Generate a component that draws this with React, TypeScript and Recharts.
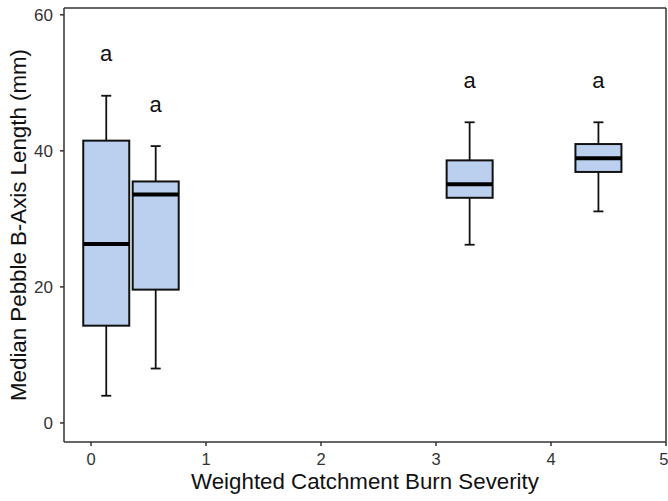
import React from 'react';
import { ComposedChart, Bar, XAxis, YAxis, ReferenceLine } from 'recharts';

// burn severity position of each group
const positions = [0.13, 0.56, 3.29, 4.41];
const whiskerLow = [4.0, 8.0, 26.2, 31.1];
const q1 = [14.3, 19.6, 33.1, 36.9];
const medians = [26.3, 33.6, 35.1, 38.9];
const q3 = [41.5, 35.5, 38.6, 41.0];
const whiskerHigh = [48.1, 40.7, 44.2, 44.2];
const letters = ['a', 'a', 'a', 'a'];
const letterY = [54.3, 46.9, 50.3, 50.3];

const xTicks = [0, 1, 2, 3, 4, 5];
const yTicks = [0, 20, 40, 60];
const xDomain = [-0.235, 5];
const yDomain = [-2.8, 61];

const data = positions.map((x, i) => ({
  x,
  range: [whiskerLow[i], whiskerHigh[i]],
  low: whiskerLow[i],
  q1: q1[i],
  median: medians[i],
  q3: q3[i],
  high: whiskerHigh[i],
  letter: letters[i],
  letterY: letterY[i],
}));

const AXIS = '#333333';
const FONT = '"Liberation Sans", Arial, sans-serif';

function BoxShape(props: any) {
  const { x, y, width, height, payload } = props;
  const { low, high } = payload;
  // range bar spans [low, high]; map other stats along the same scale
  const py = (v: number) => y + ((high - v) / (high - low)) * height;
  const cx = x + width / 2;
  const cap = 5;
  return (
    <g>
      <line x1={cx} x2={cx} y1={py(high)} y2={py(payload.q3)} stroke="#111" strokeWidth={1.8} />
      <line x1={cx} x2={cx} y1={py(payload.q1)} y2={py(low)} stroke="#111" strokeWidth={1.8} />
      <line x1={cx - cap} x2={cx + cap} y1={py(high)} y2={py(high)} stroke="#111" strokeWidth={1.8} />
      <line x1={cx - cap} x2={cx + cap} y1={py(low)} y2={py(low)} stroke="#111" strokeWidth={1.8} />
      <rect
        x={x}
        y={py(payload.q3)}
        width={width}
        height={py(payload.q1) - py(payload.q3)}
        fill="#BBD0EE"
        stroke="#111"
        strokeWidth={2}
      />
      <line x1={x} x2={x + width} y1={py(payload.median)} y2={py(payload.median)} stroke="#000" strokeWidth={4} />
      <text
        x={cx}
        y={py(payload.letterY)}
        dy="0.35em"
        textAnchor="middle"
        fontFamily={FONT}
        fontSize={22}
        fill="#111"
      >
        {payload.letter}
      </text>
    </g>
  );
}

export default function App() {
  return (
    <div style={{ position: 'absolute', left: 0, top: 0, background: '#fff' }}>
      <ComposedChart width={668} height={501} data={data} margin={{ top: 8, right: 2, bottom: 0, left: 0 }}>
        <XAxis
          dataKey="x"
          type="number"
          domain={xDomain}
          ticks={xTicks}
          allowDataOverflow
          height={59}
          stroke={AXIS}
          strokeWidth={1.5}
          tickSize={4}
          tickMargin={7}
          tick={{ fill: '#333', fontSize: 16.5, fontFamily: FONT }}
          label={{
            value: 'Weighted Catchment Burn Severity',
            position: 'insideBottom',
            offset: 12,
            fill: '#111',
            fontSize: 22.3,
            fontFamily: FONT,
          }}
        />
        <YAxis
          type="number"
          domain={yDomain}
          ticks={yTicks}
          allowDataOverflow
          width={64}
          stroke={AXIS}
          strokeWidth={1.5}
          tickSize={4}
          tickMargin={7}
          tick={{ fill: '#333', fontSize: 17, fontFamily: FONT }}
          label={{
            value: 'Median Pebble B-Axis Length (mm)',
            angle: -90,
            position: 'insideLeft',
            offset: 18,
            fill: '#111',
            fontSize: 22.3,
            fontFamily: FONT,
            style: { textAnchor: 'middle' },
          }}
        />
        {/* panel border on top and right */}
        <ReferenceLine y={yDomain[1]} stroke={AXIS} strokeWidth={1.5} ifOverflow="visible" />
        <ReferenceLine x={xDomain[1]} stroke={AXIS} strokeWidth={1.5} ifOverflow="visible" />
        <Bar dataKey="range" barSize={46} shape={<BoxShape />} isAnimationActive={false} />
      </ComposedChart>
    </div>
  );
}
